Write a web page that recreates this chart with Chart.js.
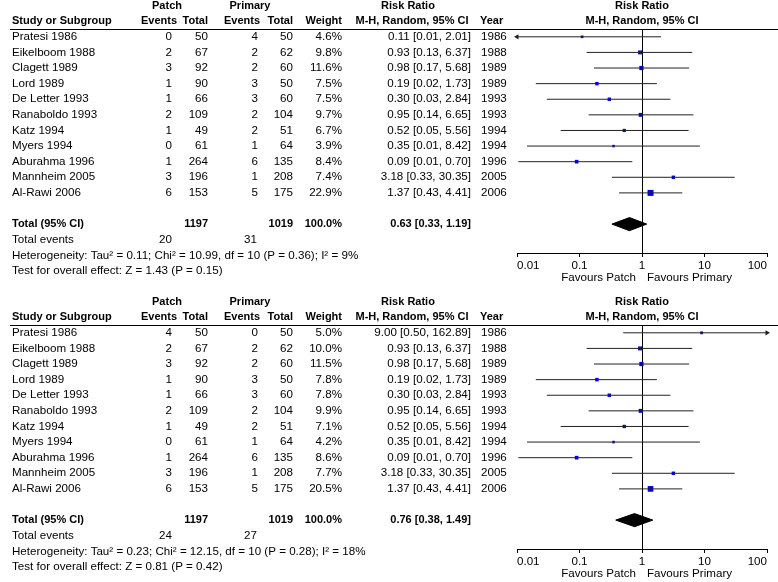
<!DOCTYPE html>
<html>
<head>
<meta charset="utf-8">
<script src="https://cdn.jsdelivr.net/npm/chart.js@4.4.0/dist/chart.umd.min.js"></script>
<style>
  html, body { margin: 0; padding: 0; background: #fff; overflow: hidden; }
  .panel { position: absolute; left: 0; width: 778px; height: 296px; }
</style>
</head>
<body>
<div class="panel" style="top:0"><canvas id="forestA" width="778" height="296"></canvas></div>
<div class="panel" style="top:296px"><canvas id="forestB" width="778" height="296"></canvas></div>
<script>
// Studies (same in both analyses)
const studies = ['Pratesi 1986', 'Eikelboom 1988', 'Clagett 1989', 'Lord 1989', 'De Letter 1993',
  'Ranaboldo 1993', 'Katz 1994', 'Myers 1994', 'Aburahma 1996', 'Mannheim 2005', 'Al-Rawi 2006'];
const years = [1986, 1988, 1989, 1989, 1993, 1993, 1994, 1994, 1996, 2005, 2006];
const patchTotal = [50, 67, 92, 90, 66, 109, 49, 61, 264, 196, 153];
const primaryTotal = [50, 62, 60, 50, 60, 104, 51, 64, 135, 208, 175];

// Top analysis
const patchEventsA = [0, 2, 3, 1, 1, 2, 1, 0, 1, 3, 6];
const primaryEventsA = [4, 2, 2, 3, 3, 2, 2, 1, 6, 1, 5];
const weightA = [4.6, 9.8, 11.6, 7.5, 7.5, 9.7, 6.7, 3.9, 8.4, 7.4, 22.9];
const ratioA = [0.11, 0.93, 0.98, 0.19, 0.30, 0.95, 0.52, 0.35, 0.09, 3.18, 1.37];
const lowerA = [0.006, 0.13, 0.17, 0.02, 0.03, 0.14, 0.05, 0.0145, 0.0105, 0.33, 0.43];
const upperA = [2.01, 6.37, 5.68, 1.73, 2.84, 6.65, 5.56, 8.42, 0.70, 30.35, 4.41];
const pooledA = [0.63, 0.33, 1.19];
const totalEventsA = [20, 31];
const heterogeneityA = 'Heterogeneity: Tau² = 0.11; Chi² = 10.99, df = 10 (P = 0.36); I² = 9%';
const overallA = 'Test for overall effect: Z = 1.43 (P = 0.15)';

// Bottom analysis
const patchEventsB = [4, 2, 3, 1, 1, 2, 1, 0, 1, 3, 6];
const primaryEventsB = [0, 2, 2, 3, 3, 2, 2, 1, 6, 1, 5];
const weightB = [5.0, 10.0, 11.5, 7.8, 7.8, 9.9, 7.1, 4.2, 8.6, 7.7, 20.5];
const ratioB = [9.00, 0.93, 0.98, 0.19, 0.30, 0.95, 0.52, 0.35, 0.09, 3.18, 1.37];
const lowerB = [0.50, 0.13, 0.17, 0.02, 0.03, 0.14, 0.05, 0.0145, 0.0105, 0.33, 0.43];
const upperB = [162.89, 6.37, 5.68, 1.73, 2.84, 6.65, 5.56, 8.42, 0.70, 30.35, 4.41];
const pooledB = [0.76, 0.38, 1.49];
const totalEventsB = [24, 27];
const heterogeneityB = 'Heterogeneity: Tau² = 0.23; Chi² = 12.15, df = 10 (P = 0.28); I² = 18%';
const overallB = 'Test for overall effect: Z = 0.81 (P = 0.42)';

// Axis
const axisTicks = [0.01, 0.1, 1, 10, 100];
const tickLabels = ['0.01', '0.1', '1', '10', '100'];
const favours = ['Favours Patch', 'Favours Primary'];

const FONT = '"Liberation Sans", Arial, sans-serif';
const TEXT_SIZE = 11.6;
const BOLD_SIZE = 11;
const BOX_BLUE = '#0000dd';
const TOTAL_ROW = 12;

function ci(r, lo, hi) {
  return r.toFixed(2) + ' [' + lo.toFixed(2) + ', ' + hi.toFixed(2) + ']';
}

// Table text, header rule and "favours" labels, placed on the chart's row scale
function tablePlugin(d) {
  return {
    id: 'tableText',
    afterDraw(chart) {
      const ctx = chart.ctx;
      const yScale = chart.scales.y;
      const xScale = chart.scales.x;
      const area = chart.chartArea;
      const row = i => yScale.getPixelForValue(i);
      const put = (txt, x, r, align, bold) => {
        ctx.font = bold ? 'bold ' + BOLD_SIZE + 'px ' + FONT : TEXT_SIZE + 'px ' + FONT;
        ctx.textAlign = align;
        ctx.fillText(String(txt), x, row(r));
      };
      ctx.save();
      ctx.fillStyle = '#000';
      ctx.textBaseline = 'middle';

      // headers
      put('Patch', 167, -2, 'center', true);
      put('Primary', 250, -2, 'center', true);
      put('Risk Ratio', 408, -2, 'center', true);
      put('Risk Ratio', 642, -2, 'center', true);
      put('Study or Subgroup', 12, -1, 'left', true);
      put('Events', 177, -1, 'right', true);
      put('Total', 208, -1, 'right', true);
      put('Events', 260, -1, 'right', true);
      put('Total', 293, -1, 'right', true);
      put('Weight', 342, -1, 'right', true);
      put('M-H, Random, 95% CI', 412, -1, 'center', true);
      put('Year', 480, -1, 'left', true);
      put('M-H, Random, 95% CI', 642, -1, 'center', true);

      // study rows
      studies.forEach((s, i) => {
        put(s, 12, i, 'left');
        put(d.patchEvents[i], 172, i, 'right');
        put(patchTotal[i], 208, i, 'right');
        put(d.primaryEvents[i], 258, i, 'right');
        put(primaryTotal[i], 293, i, 'right');
        put(d.weight[i].toFixed(1) + '%', 342, i, 'right');
        put(ci(d.ratio[i], d.lower[i], d.upper[i]), 471, i, 'right');
        put(years[i], 481, i, 'left');
      });

      // totals
      const sum = a => a.reduce((p, v) => p + v, 0);
      put('Total (95% CI)', 12, TOTAL_ROW, 'left', true);
      put(sum(patchTotal), 208, TOTAL_ROW, 'right', true);
      put(sum(primaryTotal), 293, TOTAL_ROW, 'right', true);
      put('100.0%', 342, TOTAL_ROW, 'right', true);
      put(ci(d.pooled[0], d.pooled[1], d.pooled[2]), 471, TOTAL_ROW, 'right', true);
      put('Total events', 12, TOTAL_ROW + 1, 'left');
      put(d.totalEvents[0], 172, TOTAL_ROW + 1, 'right');
      put(d.totalEvents[1], 257, TOTAL_ROW + 1, 'right');
      put(d.heterogeneity, 12, TOTAL_ROW + 2, 'left');
      put(d.overall, 12, TOTAL_ROW + 3, 'left');

      // favours labels under the axis
      const one = xScale.getPixelForValue(1);
      ctx.font = TEXT_SIZE + 'px ' + FONT;
      ctx.textAlign = 'right';
      ctx.fillText(favours[0], one - 6, area.bottom + 25);
      ctx.textAlign = 'left';
      ctx.fillText(favours[1], one + 5, area.bottom + 25);

      // header rule
      ctx.strokeStyle = '#000';
      ctx.lineWidth = 1;
      ctx.beginPath();
      ctx.moveTo(10, Math.round(area.top) + 0.5);
      ctx.lineTo(778, Math.round(area.top) + 0.5);
      ctx.stroke();
      ctx.restore();
    }
  };
}

function buildPanel(canvasId, d) {
  const rows = studies.map((s, i) => i);

  const whiskers = [];
  rows.forEach(i => {
    whiskers.push({ x: d.lower[i], y: i }, { x: d.upper[i], y: i }, { x: null, y: null });
  });

  const boxes = rows.map(i => ({ x: d.ratio[i], y: i }));
  const boxRadius = rows.map(i => 1.25 * Math.sqrt(d.weight[i]) / Math.SQRT2);

  const arrows = [];
  const arrowRot = [];
  rows.forEach(i => {
    if (d.lower[i] < axisTicks[0]) { arrows.push({ x: axisTicks[0], y: i }); arrowRot.push(270); }
    if (d.upper[i] > axisTicks[axisTicks.length - 1]) { arrows.push({ x: axisTicks[axisTicks.length - 1], y: i }); arrowRot.push(90); }
  });

  const half = 0.42;
  const diamond = [
    { x: d.pooled[1], y: TOTAL_ROW },
    { x: d.pooled[0], y: TOTAL_ROW - half },
    { x: d.pooled[2], y: TOTAL_ROW },
    { x: d.pooled[0], y: TOTAL_ROW + half },
    { x: d.pooled[1], y: TOTAL_ROW }
  ];

  return new Chart(document.getElementById(canvasId), {
    type: 'scatter',
    data: {
      datasets: [
        {
          type: 'line',
          data: whiskers,
          borderColor: '#222',
          borderWidth: 1,
          pointRadius: 0,
          spanGaps: false,
          fill: false,
          tension: 0
        },
        {
          data: boxes,
          pointStyle: 'rect',
          pointRadius: boxRadius,
          backgroundColor: BOX_BLUE,
          borderColor: BOX_BLUE,
          borderWidth: 0
        },
        {
          data: arrows,
          pointStyle: 'triangle',
          pointRadius: 3,
          rotation: arrowRot,
          backgroundColor: '#222',
          borderColor: '#222',
          borderWidth: 0,
          clip: false
        },
        {
          type: 'line',
          data: diamond,
          borderColor: '#000',
          borderWidth: 1,
          backgroundColor: '#000',
          pointRadius: 0,
          fill: 'shape',
          tension: 0
        }
      ]
    },
    options: {
      responsive: false,
      devicePixelRatio: 1,
      animation: false,
      events: [],
      layout: { padding: { left: 517, right: 11, top: 29, bottom: 0 } },
      plugins: { legend: { display: false }, tooltip: { enabled: false } },
      scales: {
        x: {
          type: 'logarithmic',
          min: axisTicks[0],
          max: axisTicks[axisTicks.length - 1],
          afterBuildTicks: scale => { scale.ticks = axisTicks.map(v => ({ value: v })); },
          afterFit: scale => { scale.height = 43; scale.paddingLeft = 0; scale.paddingRight = 0; },
          border: { display: true, color: '#000', width: 1 },
          grid: {
            drawOnChartArea: true,
            color: c => (c.tick && c.tick.value === 1 ? '#000' : 'rgba(0,0,0,0)'),
            tickColor: '#000',
            tickLength: 4,
            lineWidth: 1
          },
          ticks: {
            autoSkip: false,
            maxRotation: 0,
            align: 'inner',
            padding: 2,
            color: '#000',
            font: { family: FONT, size: TEXT_SIZE },
            callback: (v, idx) => tickLabels[idx]
          }
        },
        y: {
          type: 'linear',
          display: false,
          reverse: true,
          min: -0.5,
          max: 13.85
        }
      }
    },
    plugins: [tablePlugin(d)]
  });
}

buildPanel('forestA', {
  patchEvents: patchEventsA, primaryEvents: primaryEventsA, weight: weightA,
  ratio: ratioA, lower: lowerA, upper: upperA, pooled: pooledA,
  totalEvents: totalEventsA, heterogeneity: heterogeneityA, overall: overallA
});
buildPanel('forestB', {
  patchEvents: patchEventsB, primaryEvents: primaryEventsB, weight: weightB,
  ratio: ratioB, lower: lowerB, upper: upperB, pooled: pooledB,
  totalEvents: totalEventsB, heterogeneity: heterogeneityB, overall: overallB
});
</script>
</body>
</html>
